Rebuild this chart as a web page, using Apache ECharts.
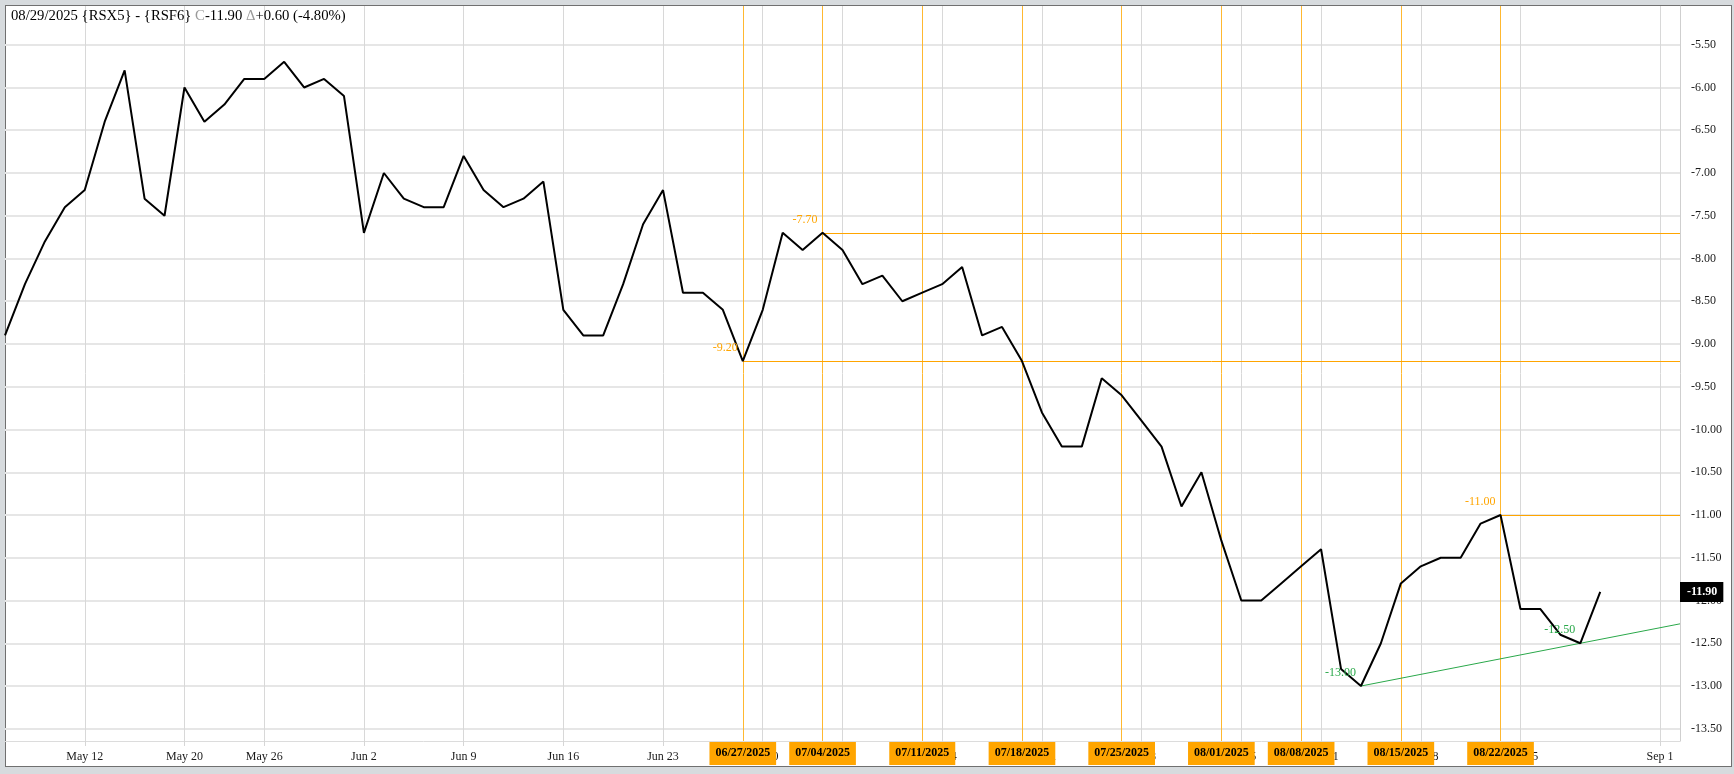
<!DOCTYPE html>
<html><head><meta charset="utf-8">
<script src="https://cdn.jsdelivr.net/npm/echarts@6/dist/echarts.min.js"></script>
<style>
html,body{margin:0;padding:0;width:1734px;height:774px;overflow:hidden;background:#d7dbde;}
#frame{position:absolute;left:5px;top:5px;width:1725px;height:760px;border:1px solid #707070;background:#fff;}
#chart{position:absolute;left:0;top:0;width:1734px;height:774px;}
</style></head><body>
<div id="frame"></div><div id="chart"></div>
<script>
// ---- data ----
const symbolA = 'RSX5';
const symbolB = 'RSF6';
const year = '2025';
const dates = ['05/06','05/07','05/08','05/09','05/12','05/13','05/14','05/15','05/16','05/20','05/21','05/22','05/23','05/26','05/27','05/28','05/29','05/30',
  '06/02','06/03','06/04','06/05','06/06','06/09','06/10','06/11','06/12','06/13','06/16','06/17','06/18','06/19','06/20','06/23','06/24','06/25','06/26','06/27','06/30',
  '07/02','07/03','07/04','07/07','07/08','07/09','07/10','07/11','07/14','07/15','07/16','07/17','07/18','07/21','07/22','07/23','07/24','07/25','07/28','07/29','07/30','07/31',
  '08/01','08/05','08/06','08/07','08/08','08/11','08/12','08/13','08/14','08/15','08/18','08/19','08/20','08/21','08/22','08/25','08/26','08/27','08/28','08/29'];
const futureDates = ['08/30','08/31','09/01','09/02'];
const values = [-8.9,-8.3,-7.8,-7.4,-7.2,-6.4,-5.8,-7.3,-7.5,-6.0,-6.4,-6.2,-5.9,-5.9,-5.7,-6.0,-5.9,-6.1,
  -7.7,-7.0,-7.3,-7.4,-7.4,-6.8,-7.2,-7.4,-7.3,-7.1,-8.6,-8.9,-8.9,-8.3,-7.6,-7.2,-8.4,-8.4,-8.6,-9.2,-8.6,
  -7.7,-7.9,-7.7,-7.9,-8.3,-8.2,-8.5,-8.4,-8.3,-8.1,-8.9,-8.8,-9.2,-9.8,-10.2,-10.2,-9.4,-9.6,-9.9,-10.2,-10.9,-10.5,
  -11.3,-12.0,-12.0,-11.8,-11.6,-11.4,-12.8,-13.0,-12.5,-11.8,-11.6,-11.5,-11.5,-11.1,-11.0,-12.1,-12.1,-12.4,-12.5,-11.9];
const tickDates  = ['05/12','05/20','05/26','06/02','06/09','06/16','06/23','06/30','07/07','07/14','07/21','07/28','08/05','08/11','08/18','08/25','09/01'];
const tickLabels = ['May 12','May 20','May 26','Jun 2','Jun 9','Jun 16','Jun 23','Jun 30','Jul 7','Jul 14','Jul 21','Jul 28','Aug 5','Aug 11','Aug 18','Aug 25','Sep 1'];
const weeklyMarkers = ['06/27','07/04','07/11','07/18','07/25','08/01','08/08','08/15','08/22'];
const levelDates  = ['06/27','07/04','08/22'];
const levelValues = [-9.2,-7.7,-11.0];
const trendDates  = ['08/13','08/28'];
const trendValues = [-13.0,-12.5];
const yTicks = [-13.5,-13.0,-12.5,-12.0,-11.5,-11.0,-10.5,-10.0,-9.5,-9.0,-8.5,-8.0,-7.5,-7.0,-6.5,-6.0,-5.5];

// ---- derived ----
const allDates = dates.concat(futureDates);
const lastCat = allDates[allDates.length - 1];
const f2 = v => v.toFixed(2);
const last = values[values.length - 1];
const prev = values[values.length - 2];
const chg = last - prev;
const pct = chg / prev * 100;
const i0 = allDates.indexOf(trendDates[0]);
const i1 = allDates.indexOf(trendDates[1]);
const slope = (trendValues[1] - trendValues[0]) / (i1 - i0);
const trendEnd = trendValues[1] + slope * (allDates.length - 1 - i1);

const SERIF = 'Liberation Serif';
const ORANGE = '#FFA500';
const GREEN = '#2aa84a';
const isTick = (idx, val) => tickDates.indexOf(val) >= 0;

const titleText = dates[dates.length - 1] + '/' + year + ' {' + symbolA + '} - {' + symbolB + '} {g|C}' + f2(last) +
  ' {g|\u0394}' + (chg >= 0 ? '+' : '') + f2(chg) + ' (' + f2(pct) + '%)';

const chart = echarts.init(document.getElementById('chart'), null, {renderer: 'canvas'});
chart.setOption({
  animation: false,
  backgroundColor: 'transparent',
  title: {
    text: titleText, left: 11, top: 9, padding: 0,
    textStyle: {fontFamily: SERIF, fontSize: 14.7, fontWeight: 'normal', color: '#000',
      rich: {g: {fontFamily: SERIF, fontSize: 14.7, color: '#9a9a9a'}}}
  },
  grid: {left: 5, right: 54, top: 6, bottom: 33, containLabel: false},
  xAxis: {
    type: 'category', data: allDates, boundaryGap: false,
    axisLine: {show: true, lineStyle: {color: '#dcdcdc', width: 1}},
    axisTick: {show: true, interval: isTick, length: 5, lineStyle: {color: '#d6d6d6'}},
    axisLabel: {interval: isTick, margin: 10, fontFamily: SERIF, fontSize: 12, color: '#1a1a1a',
      formatter: v => tickLabels[tickDates.indexOf(v)]},
    splitLine: {show: true, interval: isTick, lineStyle: {color: '#d8d8d8', width: 1}}
  },
  yAxis: {
    type: 'value', position: 'right', min: -13.643, max: -5.047, scale: true,
    axisLine: {show: true, lineStyle: {color: '#cfcfcf', width: 1}},
    axisTick: {show: false, customValues: yTicks},
    axisLabel: {customValues: yTicks, margin: 11, fontFamily: SERIF, fontSize: 12, color: '#1a1a1a',
      formatter: v => f2(v)},
    splitLine: {show: true, lineStyle: {color: '#e6e6e6', width: 2}}
  },
  series: [
    {
      type: 'line', data: values, symbol: 'none', silent: true, z: 1,
      lineStyle: {opacity: 0},
      markLine: {
        z: 1, silent: true, symbol: 'none', animation: false,
        lineStyle: {color: '#FFB830', width: 1, type: 'solid'},
        label: {show: true, position: 'start', distance: 1, formatter: p => p.name,
          backgroundColor: ORANGE, color: '#000', fontFamily: SERIF, fontSize: 12, fontWeight: 'bold',
          padding: [5, 6, 6, 6]},
        data: weeklyMarkers.map(d => ({xAxis: d, name: d + '/' + year}))
      }
    },
    {
      type: 'line', data: values, symbol: 'none', silent: true, z: 2,
      lineStyle: {opacity: 0},
      markLine: {
        z: 2, silent: true, symbol: 'none', animation: false,
        lineStyle: {color: ORANGE, width: 1, type: 'solid'},
        label: {show: false},
        data: levelDates.map((d, i) => [{coord: [d, levelValues[i]]}, {coord: [lastCat, levelValues[i]]}])
      },
      markPoint: {
        z: 6, silent: true, symbol: 'circle', symbolSize: 0, animation: false,
        label: {show: true, position: 'left', distance: 5, offset: [0, -13], color: ORANGE,
          fontFamily: SERIF, fontSize: 12, formatter: p => f2(p.value)},
        data: levelDates.map((d, i) => ({coord: [d, levelValues[i]], value: levelValues[i]}))
      }
    },
    {
      type: 'line', data: values, symbol: 'none', silent: true, z: 2,
      lineStyle: {opacity: 0},
      markLine: {
        z: 2, silent: true, symbol: 'none', animation: false,
        lineStyle: {color: GREEN, width: 1, type: 'solid'},
        label: {show: false},
        data: [[{coord: [trendDates[0], trendValues[0]]}, {coord: [lastCat, trendEnd]}]]
      },
      markPoint: {
        z: 6, silent: true, symbol: 'circle', symbolSize: 0, animation: false,
        label: {show: true, position: 'left', distance: 5, offset: [0, -13], color: GREEN,
          fontFamily: SERIF, fontSize: 12, formatter: p => f2(p.value)},
        data: trendDates.map((d, i) => ({coord: [d, trendValues[i]], value: trendValues[i]}))
      }
    },
    {
      type: 'line', data: values, symbol: 'none', showSymbol: false, z: 4,
      lineStyle: {color: '#000', width: 2},
      markPoint: {
        z: 8, silent: true, symbol: 'circle', symbolSize: 0, animation: false,
        label: {show: true, position: 'right', distance: 0, formatter: () => f2(last),
          backgroundColor: '#000', color: '#fff', fontFamily: SERIF, fontSize: 12, fontWeight: 'bold',
          padding: [4, 6, 4, 7]},
        data: [{coord: [lastCat, last], value: last}]
      }
    }
  ]
});
</script></body></html>
